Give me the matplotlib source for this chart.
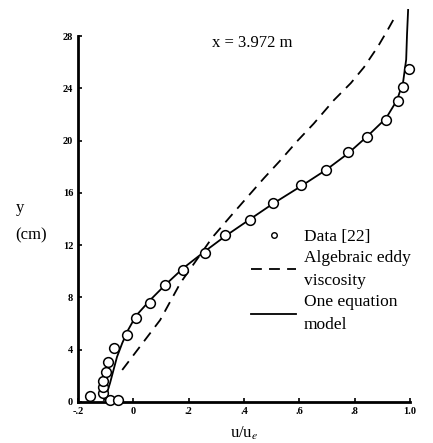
import matplotlib
matplotlib.use('Agg')
import matplotlib.pyplot as plt
from matplotlib.lines import Line2D

# measured data [22]
data_u = [-0.157, -0.084, -0.055, -0.11, -0.11, -0.11, -0.10, -0.09, -0.07, -0.022,
          0.01, 0.061, 0.115, 0.18, 0.26, 0.333, 0.42, 0.503, 0.605, 0.696,
          0.775, 0.844, 0.913, 0.957, 0.975, 0.997]
data_y = [0.46, 0.15, 0.15, 0.7, 1.15, 1.6, 2.3, 3.06, 4.1, 5.1,
          6.4, 7.6, 8.95, 10.1, 11.4, 12.8, 13.9, 15.2, 16.6, 17.75,
          19.1, 20.3, 21.6, 23.0, 24.1, 25.5]

# algebraic eddy viscosity
aev_u = [-0.040, 0.097, 0.17, 0.286, 0.351, 0.413, 0.471, 0.532, 0.594, 0.652,
         0.725, 0.786, 0.833, 0.884, 0.920, 0.949]
aev_y = [2.45, 6.27, 9.1, 12.6, 14.2, 15.7, 17.1, 18.5, 20.0, 21.3,
         23.1, 24.4, 25.6, 27.2, 28.5, 29.6]

# one equation model
one_u = [-0.106, -0.095, -0.084, -0.059, -0.040, -0.019, 0.010, 0.061, 0.115, 0.181,
         0.260, 0.333, 0.416, 0.503, 0.605, 0.696, 0.775, 0.844, 0.913, 0.953,
         0.975, 0.986, 0.989, 0.993]
one_y = [0.15, 0.7, 1.45, 3.44, 4.5, 5.5, 6.6, 7.8, 8.95, 10.25,
         11.55, 12.7, 13.9, 15.15, 16.5, 17.75, 19.0, 20.3, 21.7, 23.1,
         24.5, 26.2, 28.1, 30.0]

xticks = [-0.2, 0, 0.2, 0.4, 0.6, 0.8, 1.0]
xticklabels = ['-.2', '0', '.2', '.4', '.6', '.8', '1.0']
yticks = [0, 4, 8, 12, 16, 20, 24, 28]

plt.rcParams['font.family'] = ['Liberation Serif', 'DejaVu Serif']
plt.rcParams['mathtext.fontset'] = 'stix'

fig = plt.figure(figsize=(4.33, 4.43), dpi=100)
ax = fig.add_axes([0.18, 0.0926, 0.767, 0.826])

ax.plot(data_u, data_y, 'o', mfc='white', mec='black', mew=1.1, ms=7, clip_on=False, zorder=3)
ax.plot(aev_u, aev_y, color='black', lw=1.3, dashes=(6, 4), clip_on=False)
ax.plot(one_u, one_y, color='black', lw=1.3, clip_on=False)

ax.set_xlim(-0.2, 1.0)
ax.set_ylim(0, 28)
ax.set_xticks(xticks)
ax.set_xticklabels(xticklabels)
ax.set_yticks(yticks)
for s in ['top', 'right']:
    ax.spines[s].set_visible(False)
for s in ['left', 'bottom']:
    ax.spines[s].set_linewidth(2)
ax.tick_params(direction='in', length=3, width=1.2, labelsize=7.5)
for lab in ax.get_xticklabels() + ax.get_yticklabels():
    lab.set_fontweight('bold')

ax.text(0.524, 0.98, 'x = 3.972 m', transform=ax.transAxes, ha='center', va='center', fontsize=12)
fig.text(0.047, 0.53, 'y', ha='center', va='center', fontsize=12)
fig.text(0.072, 0.468, '(cm)', ha='center', va='center', fontsize=12)
ax.set_xlabel(r'u/u$_e$', fontsize=12, labelpad=6)

handles = [Line2D([], [], ls='none', marker='o', mfc='white', mec='black', ms=4),
           Line2D([], [], color='black', lw=1.3, dashes=(6, 4)),
           Line2D([], [], color='black', lw=1.3)]
labels = ['Data [22]', 'Algebraic eddy\nviscosity', 'One equation\nmodel']
leg = ax.legend(handles, labels, loc='upper left', bbox_to_anchor=(0.5, 0.493), frameon=False,
                fontsize=12.5, handlelength=2.6, handletextpad=0.45, labelspacing=0.3,
                borderaxespad=0)
for t in leg.get_texts():
    t.set_linespacing(1.6)

fig.savefig('out.png', dpi=100)
